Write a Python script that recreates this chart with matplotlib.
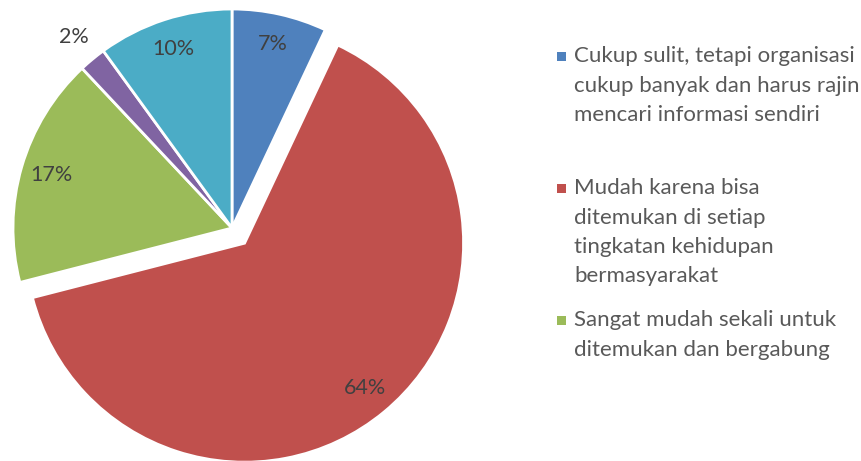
import numpy as np
import matplotlib
matplotlib.use("Agg")
import matplotlib.pyplot as plt
from matplotlib.patches import Rectangle

plt.rcParams['font.family'] = ['Lato', 'DejaVu Sans']

# data
values = [7, 64, 17, 2, 10]
colors = ['#4F81BD', '#C0504D', '#9BBB59', '#8064A2', '#4BACC6']
explode = [0, 0.09, 0, 0, 0]
legend_labels = [
    ["Cukup sulit, tetapi organisasi", "cukup banyak dan harus rajin", "mencari informasi sendiri"],
    ["Mudah karena bisa", "ditemukan di setiap", "tingkatan kehidupan", "bermasyarakat"],
    ["Sangat mudah sekali untuk", "ditemukan dan bergabung"],
]

W, H = 862, 461
fig = plt.figure(figsize=(W / 100, H / 100), dpi=100)
ax = fig.add_axes([0, 0, 1, 1])

# pie centre / radius in pixels
cx, cy, R = 232, 228, 219

wedges, texts, autotexts = ax.pie(
    values, colors=colors, explode=explode, startangle=90, counterclock=False,
    autopct=lambda p: f"{p:.0f}%", pctdistance=0.86,
    wedgeprops=dict(edgecolor='white', linewidth=2),
    textprops=dict(color='#404040', fontsize=15.5))

# small slice label goes outside
w = wedges[3]
th = np.deg2rad((w.theta1 + w.theta2) / 2)
autotexts[3].set_position((w.center[0] + 1.13 * np.cos(th), w.center[1] + 1.13 * np.sin(th)))

ax.set_xlim(-cx / R, (W - cx) / R)
ax.set_ylim(-(H - cy) / R, cy / R)
ax.set_aspect('auto')
ax.axis('off')

# legend, drawn by hand so the marker sits on the first line
slot = 132
line_h = 29.5
first_y = 56
for i, lines in enumerate(legend_labels):
    y0 = first_y + i * slot
    fig.patches.append(Rectangle((557 / W, 1 - (y0 + 5) / H), 9 / W, 9 / H,
                                 transform=fig.transFigure, facecolor=colors[i],
                                 edgecolor='none'))
    for j, line in enumerate(lines):
        fig.text(574 / W, 1 - (y0 + j * line_h) / H, line, fontsize=16,
                 color='#595959', va='center', ha='left')

fig.savefig('out.png', dpi=100, facecolor='white')
